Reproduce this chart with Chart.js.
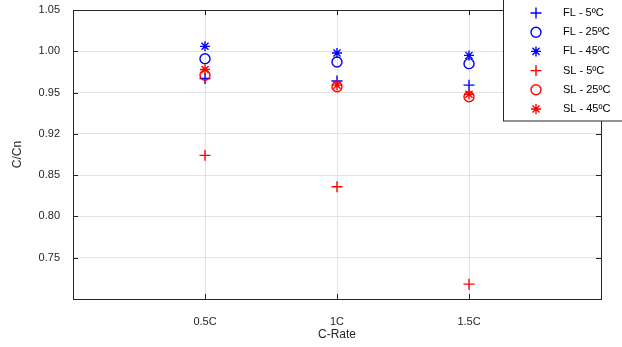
<!DOCTYPE html>
<html>
<head>
<meta charset="utf-8">
<script src="https://cdn.jsdelivr.net/npm/chart.js@4"></script>
<style>
html,body{margin:0;padding:0;background:#fff;}
#wrap{width:622px;height:347px;position:relative;}
</style>
</head>
<body>
<div id="wrap"><canvas id="c" width="622" height="347"></canvas></div>
<script>
const categories = ['0.5C', '1C', '1.5C'];
const yTickValues = [0.75, 0.80, 0.85, 0.90, 0.95, 1.00, 1.05];
const yTickLabels = ['0.75', '0.80', '0.85', '0.92', '0.95', '1.00', '1.05'];

const fl5  = [0.967, 0.964, 0.959];
const fl25 = [0.991, 0.987, 0.985];
const fl45 = [1.006, 0.998, 0.995];
const sl5  = [0.874, 0.836, 0.718];
const sl25 = [0.971, 0.957, 0.945];
const sl45 = [0.978, 0.959, 0.948];

const BLUE = '#0000ff', RED = '#ff0000';
const FRAME = '#262626';

function pts(arr){ return arr.map((v,i)=>({x:i+1, y:v})); }
function ds(label, data, color, style, radius, order){
  return {label, data: pts(data), pointStyle: style, pointRadius: radius, pointHoverRadius: radius,
    borderColor: color, backgroundColor: 'rgba(0,0,0,0)', pointBorderWidth: 1.4, borderWidth: 1.4,
    showLine: false, order};
}

const datasets = [
  ds('FL - 5ºC', fl5, BLUE, 'cross', 5.5, 6),
  ds('FL - 25ºC', fl25, BLUE, 'circle', 5, 5),
  ds('FL - 45ºC', fl45, BLUE, 'star', 5, 4),
  ds('SL - 5ºC', sl5, RED, 'cross', 5.5, 3),
  ds('SL - 25ºC', sl25, RED, 'circle', 5, 2),
  ds('SL - 45ºC', sl45, RED, 'star', 5, 1),
];

const framePlugin = {
  id: 'frame',
  afterDatasetsDraw(chart){
    const {ctx, chartArea: a, scales} = chart;
    ctx.save();
    ctx.strokeStyle = FRAME; ctx.lineWidth = 1;
    ctx.beginPath();
    yTickValues.forEach(v=>{
      const y = Math.round(scales.y.getPixelForValue(v)) + 0.5;
      ctx.moveTo(a.left, y); ctx.lineTo(a.left + 5, y);
      ctx.moveTo(a.right, y); ctx.lineTo(a.right - 5, y);
    });
    categories.forEach((c,i)=>{
      const x = Math.round(scales.x.getPixelForValue(i+1)) + 0.5;
      ctx.moveTo(x, a.bottom); ctx.lineTo(x, a.bottom - 5);
      ctx.moveTo(x, a.top); ctx.lineTo(x, a.top + 5);
    });
    ctx.stroke();
    ctx.strokeRect(Math.round(a.left)+0.5, Math.round(a.top)+0.5, Math.round(a.right-a.left), Math.round(a.bottom-a.top));
    ctx.restore();
  },
  afterDraw(chart){
    const ctx = chart.ctx;
    ctx.save();
    const bx = 503.5, by = -1, bw = 140, bh = 122;
    ctx.fillStyle = '#fff';
    ctx.fillRect(bx, by, bw, bh);
    ctx.strokeStyle = FRAME; ctx.lineWidth = 1;
    ctx.strokeRect(bx, by, bw, bh);
    ctx.font = '11px "Liberation Sans", Arial, sans-serif';
    ctx.textBaseline = 'middle';
    ctx.textAlign = 'left';
    chart.data.datasets.forEach((d, i)=>{
      const y = 13 + i * 19.2;
      ctx.strokeStyle = d.borderColor;
      ctx.fillStyle = 'rgba(0,0,0,0)';
      ctx.lineWidth = 1.4;
      Chart.helpers.drawPoint(ctx, {pointStyle: d.pointStyle, radius: d.pointRadius, rotation: 0, borderWidth: 1.4}, 536, y);
      ctx.fillStyle = '#000';
      ctx.fillText(d.label, 563, y);
    });
    ctx.restore();
  }
};

new Chart(document.getElementById('c'), {
  type: 'scatter',
  data: { datasets },
  plugins: [framePlugin],
  options: {
    responsive: false,
    animation: false,
    devicePixelRatio: 1,
    layout: { padding: { top: 10, right: 21, left: 0, bottom: 0 } },
    plugins: { legend: { display: false }, tooltip: { enabled: false } },
    scales: {
      x: {
        type: 'linear', min: 0, max: 4,
        afterBuildTicks(s){ s.ticks = categories.map((c,i)=>({value: i+1})); },
        afterFit(s){ s.height = 48; s.paddingLeft = 0; s.paddingRight = 0; },
        ticks: {
          callback: (v)=> categories[v-1] ?? '',
          color: FRAME, font: { family: '"Liberation Sans", Arial, sans-serif', size: 11 },
          padding: 16, maxRotation: 0, autoSkip: false
        },
        grid: { color: '#e3e3e3', drawTicks: false, lineWidth: 1 },
        border: { display: false },
        title: { display: true, text: 'C-Rate', color: FRAME,
          font: { family: '"Liberation Sans", Arial, sans-serif', size: 12 }, padding: { top: 4, bottom: 5 } }
      },
      y: {
        type: 'linear', min: 0.70, max: 1.05,
        afterBuildTicks(s){ s.ticks = yTickValues.map(v=>({value: v})); },
        afterFit(s){ s.width = 73; s.paddingTop = 0; s.paddingBottom = 0; },
        ticks: {
          callback: (v)=> { const i = yTickValues.findIndex(t=>Math.abs(t-v)<1e-6); return i>=0 ? yTickLabels[i] : ''; },
          color: FRAME, font: { family: '"Liberation Sans", Arial, sans-serif', size: 11 },
          padding: 13, autoSkip: false
        },
        grid: { color: '#e3e3e3', drawTicks: false, lineWidth: 1 },
        border: { display: false },
        title: { display: true, text: 'C/Cn', color: FRAME,
          font: { family: '"Liberation Sans", Arial, sans-serif', size: 12 }, padding: { top: 10, bottom: 0 } }
      }
    }
  }
});
</script>
</body>
</html>
